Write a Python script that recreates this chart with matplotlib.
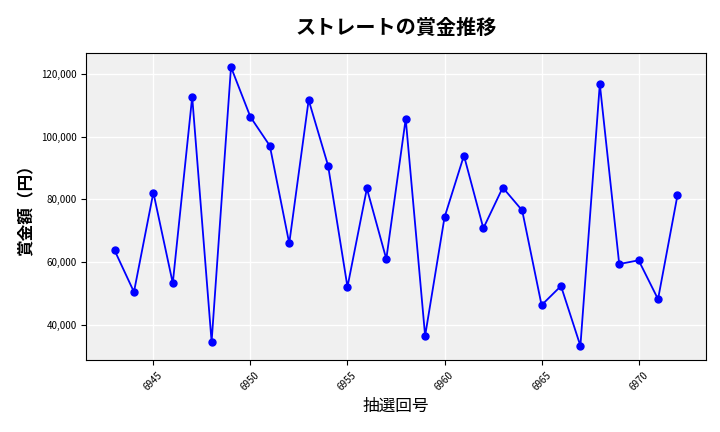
import numpy as np
import matplotlib
matplotlib.use("Agg")
import matplotlib.pyplot as plt
from matplotlib.ticker import FuncFormatter

plt.rcParams['font.family'] = ['Noto Sans CJK JP', 'DejaVu Sans']

# 抽選回号と賞金額
kaigo = list(range(6943, 6973))
shokin = [63800, 50500, 82200, 53300, 112700, 34600, 122200, 106300, 97100, 66000,
          111700, 90800, 52100, 83500, 61000, 105700, 36500, 74300, 94000, 70800,
          83800, 76500, 46300, 52400, 33300, 116800, 59400, 60600, 48200, 81300]

fig, ax = plt.subplots(figsize=(7.2, 4.32), dpi=100)
ax.set_facecolor("#f0f0f0")
ax.plot(kaigo, shokin, color="blue", marker="o", markersize=5, linewidth=1.3)

ax.grid(True, color="white", linewidth=1)
ax.set_axisbelow(True)
ax.yaxis.set_major_formatter(FuncFormatter(lambda v, p: f"{int(v):,}"))
ax.tick_params(axis="both", labelsize=7)
plt.setp(ax.get_xticklabels(), rotation=45)

ax.set_title("ストレートの賞金推移", fontsize=14.5, fontweight="bold", pad=14)
ax.set_xlabel("抽選回号", fontsize=12)
ax.set_ylabel("賞金額（円）", fontsize=12, fontweight="bold")

fig.subplots_adjust(left=0.12, right=0.98, top=0.877, bottom=0.167)
fig.savefig("out.png")
